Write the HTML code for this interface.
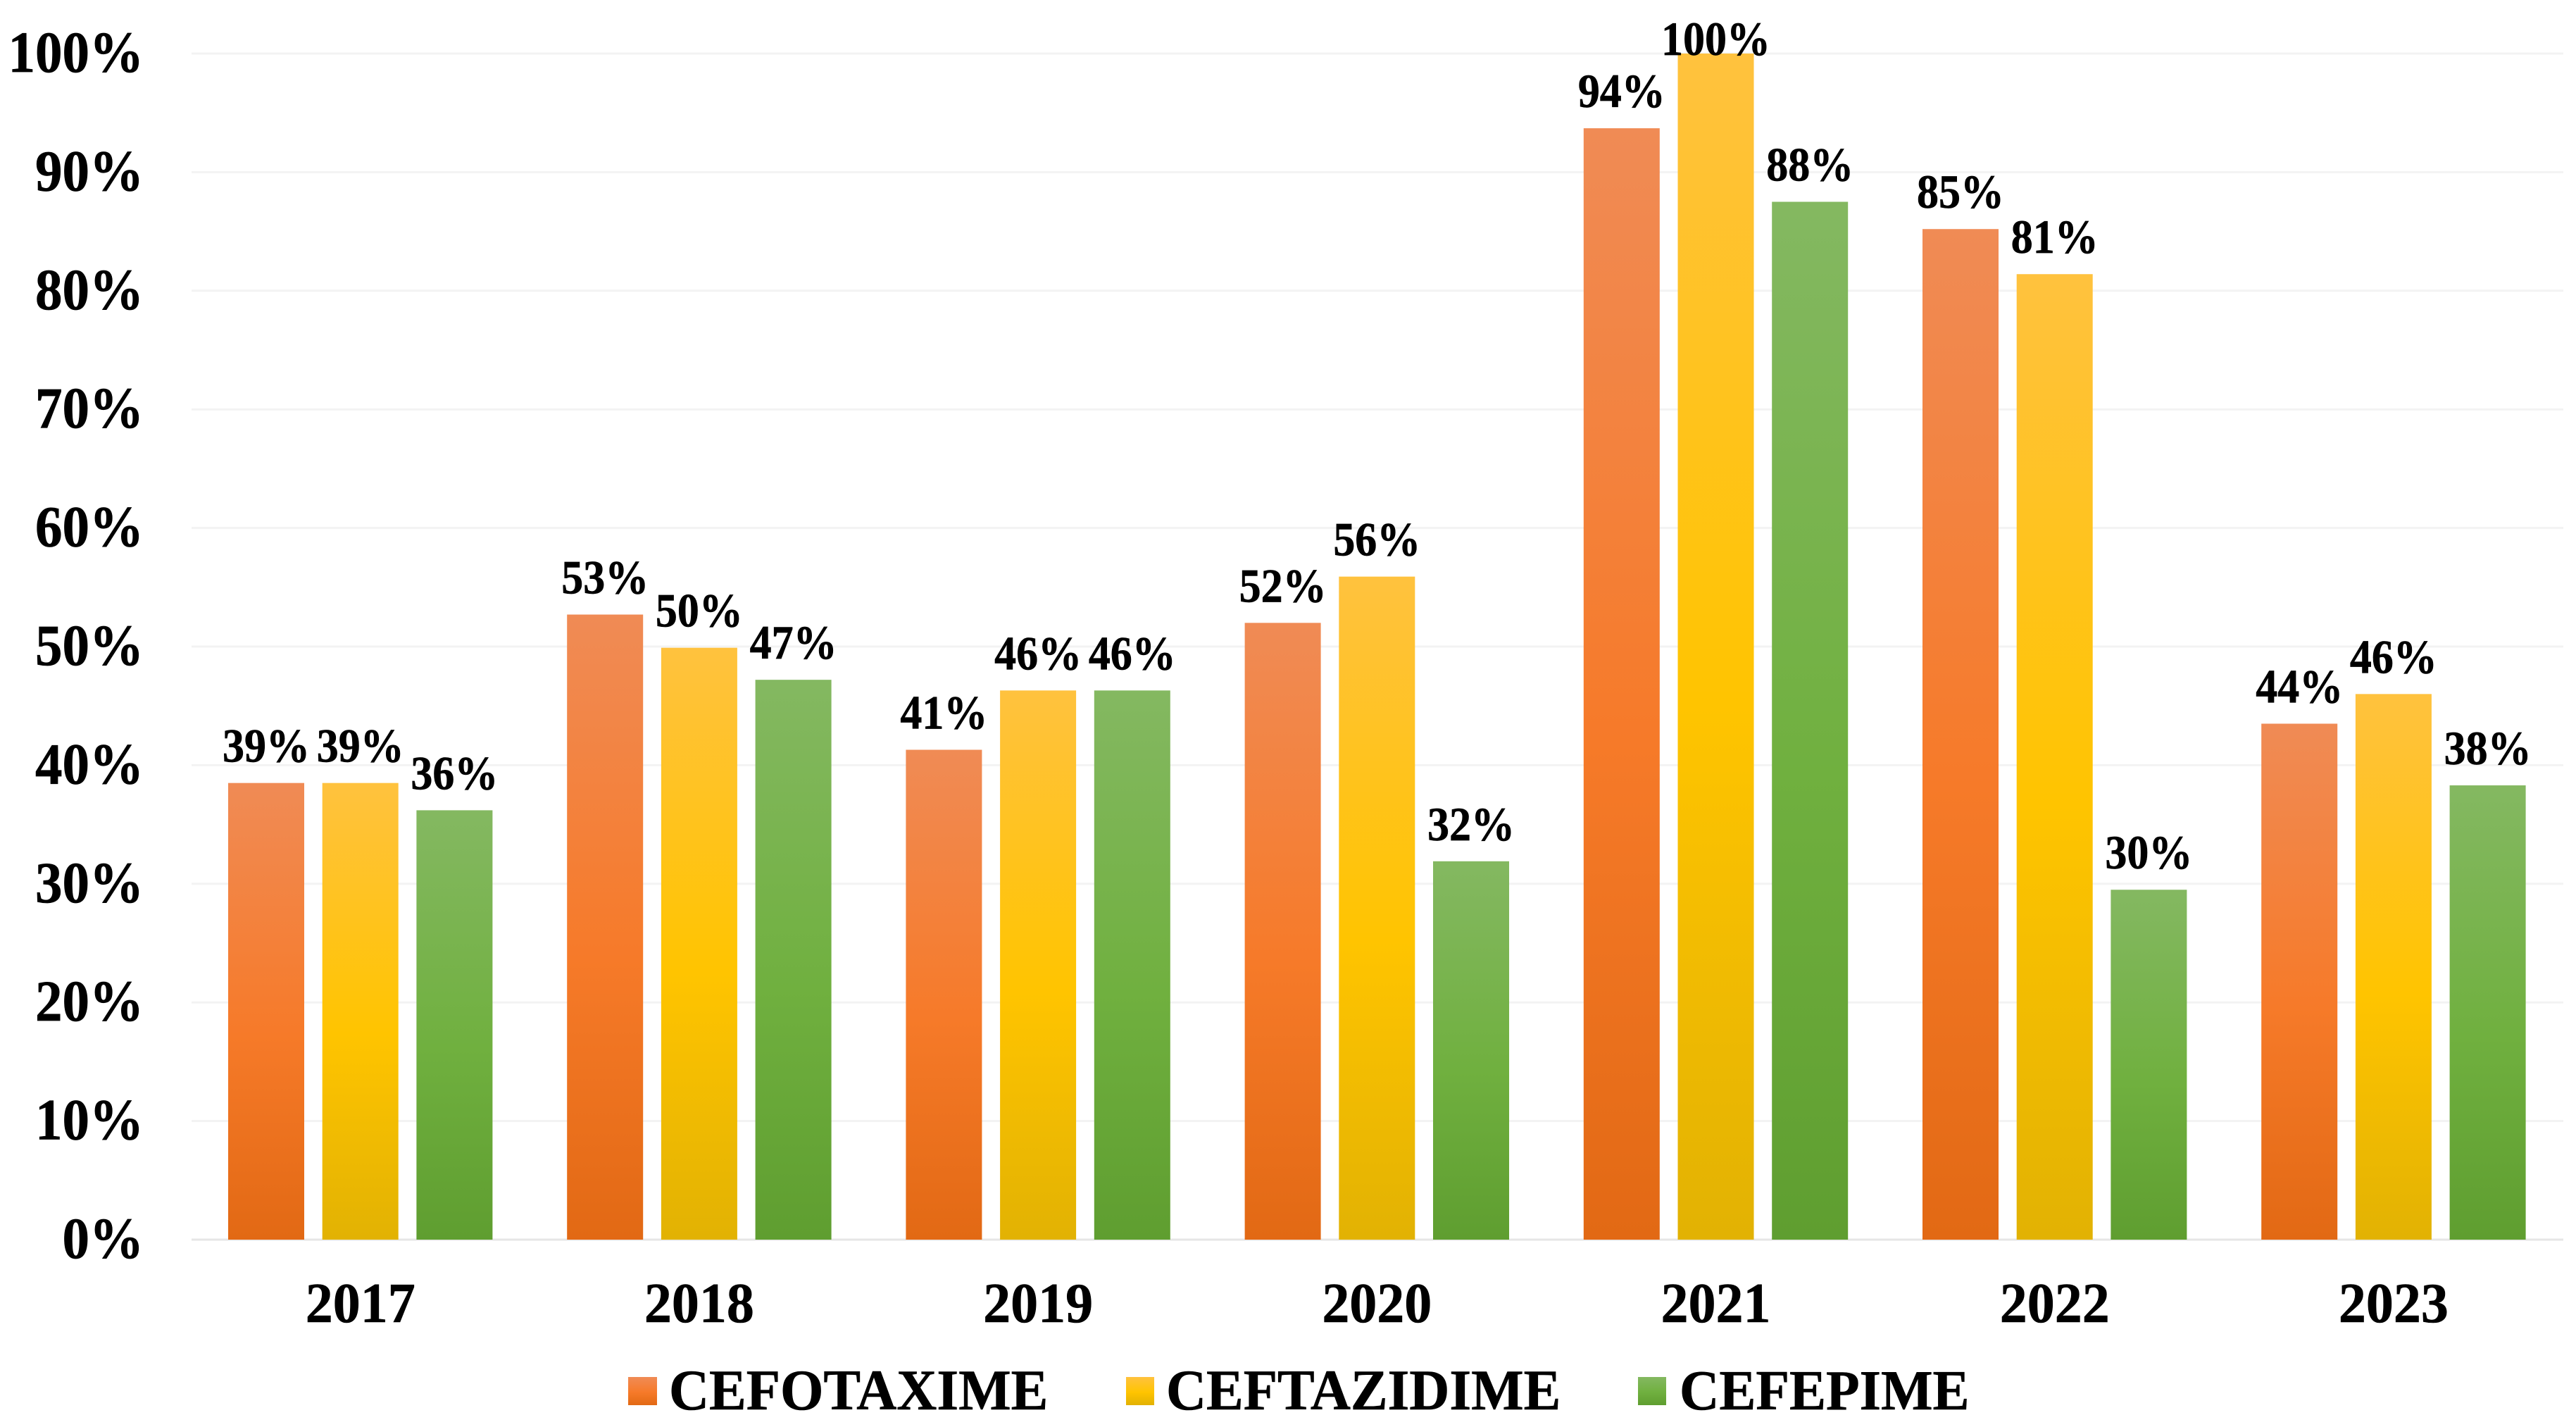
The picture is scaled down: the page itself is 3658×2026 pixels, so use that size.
<!DOCTYPE html>
<html lang="en">
<head>
<meta charset="utf-8">
<title>Cephalosporin resistance 2017–2023</title>
<style>
html,body{margin:0;padding:0;background:#fff;}
body{width:3658px;height:2026px;overflow:hidden;}
svg{display:block;}
text{font-family:"Liberation Serif",serif;font-weight:bold;fill:#000;stroke:#000;stroke-width:0.6;}
</style>
</head>
<body>
<svg id="chart" width="3658" height="2026" viewBox="0 0 3658 2026" xmlns="http://www.w3.org/2000/svg">
<defs>
<linearGradient id="grad-0" x1="0" y1="0" x2="0" y2="1"><stop offset="0" stop-color="#F08B55"/><stop offset="0.55" stop-color="#F67A29"/><stop offset="1" stop-color="#E26914"/></linearGradient>
<linearGradient id="grad-1" x1="0" y1="0" x2="0" y2="1"><stop offset="0" stop-color="#FFC23E"/><stop offset="0.55" stop-color="#FFC400"/><stop offset="1" stop-color="#E2B203"/></linearGradient>
<linearGradient id="grad-2" x1="0" y1="0" x2="0" y2="1"><stop offset="0" stop-color="#84B861"/><stop offset="0.55" stop-color="#70B03F"/><stop offset="1" stop-color="#5F9E30"/></linearGradient>
</defs>
<g id="grid"></g>
<g id="bars"></g>
<g id="labels"></g>
<g id="yaxis"></g>
<g id="xaxis"></g>
<g>
  <rect x="892" y="1955" width="41" height="40" fill="url(#grad-0)"/>
  <text transform="translate(950,2001) scale(1,1.03)" font-size="79">CEFOTAXIME</text>
  <rect x="1599" y="1955" width="40" height="40" fill="url(#grad-1)"/>
  <text transform="translate(1656,2001) scale(1,1.03)" font-size="79">CEFTAZIDIME</text>
  <rect x="2326" y="1955" width="40" height="40" fill="url(#grad-2)"/>
  <text transform="translate(2385,2001) scale(1,1.03)" font-size="78">CEFEPIME</text>
</g>
</svg>
<script>
const years = ['2017','2018','2019','2020','2021','2022','2023'];
const cefotaxime = [38.5,52.7,41.3,52.0,93.7,85.2,43.5];
const ceftazidime = [38.5,49.9,46.3,55.9,100,81.4,46.0];
const cefepime = [36.2,47.2,46.3,31.9,87.5,29.5,38.3];
const yTicks = [0,10,20,30,40,50,60,70,80,90,100];

const seriesList = [cefotaxime, ceftazidime, cefepime];
const seriesNames = ['cefotaxime','ceftazidime','cefepime'];
const NS = 'http://www.w3.org/2000/svg';
const Y0 = 1760, Y100 = 76, GRID_L = 272, GRID_R = 3640;
const X0 = 324, PITCH = 481.2, BAR_W = 108, BAR_STEP = 133.7;
const LABEL_MIN_BASELINE = 78;

function yScale(v){ return Y0 - (Y0 - Y100) * v / 100; }
function xBar(g, s){ return X0 + PITCH * g + BAR_STEP * s; }
function xCat(g){ return xBar(g, 1) + BAR_W / 2; }

const grid = document.getElementById('grid');
const bars = document.getElementById('bars');
const labels = document.getElementById('labels');
const yaxis = document.getElementById('yaxis');
const xaxis = document.getElementById('xaxis');

yTicks.forEach(function(t){
  const line = document.createElementNS(NS, 'rect');
  
  
  line.setAttribute('x', GRID_L);
  line.setAttribute('y', yScale(t) - 1.5);
  line.setAttribute('width', GRID_R - GRID_L);
  line.setAttribute('height', 3);
  line.setAttribute('fill', t === 0 ? '#e6e6e6' : '#f3f3f3');
  grid.appendChild(line);

  const lab = document.createElementNS(NS, 'text');
  
  
  lab.setAttribute('transform', 'translate(204,' + (yScale(t) + 26) + ') scale(1,1.07)');
  lab.setAttribute('text-anchor', 'end');
  lab.setAttribute('font-size', '77');
  lab.textContent = t + '%';
  yaxis.appendChild(lab);
});

years.forEach(function(year, g){
  const cat = document.createElementNS(NS, 'text');
  
  
  cat.setAttribute('transform', 'translate(' + xCat(g) + ',1877) scale(1,1.03)');
  cat.setAttribute('text-anchor', 'middle');
  cat.setAttribute('font-size', '78');
  cat.textContent = year;
  xaxis.appendChild(cat);

  seriesList.forEach(function(values, s){
    const v = values[g];
    const rect = document.createElementNS(NS, 'rect');
    
    
    rect.setAttribute('x', xBar(g, s));
    rect.setAttribute('y', yScale(v));
    rect.setAttribute('width', BAR_W);
    rect.setAttribute('height', Y0 - yScale(v));
    rect.setAttribute('fill', 'url(#grad-' + s + ')');
    bars.appendChild(rect);

    const lab = document.createElementNS(NS, 'text');
    
    
    const baseline = Math.max(yScale(v) - 30, LABEL_MIN_BASELINE);
    lab.setAttribute('transform', 'translate(' + (xBar(g, s) + BAR_W / 2) + ',' + baseline + ') scale(1,1.1)');
    lab.setAttribute('text-anchor', 'middle');
    lab.setAttribute('font-size', '62');
    lab.textContent = Math.round(v) + '%';
    labels.appendChild(lab);
  });
});
</script>
</body>
</html>
